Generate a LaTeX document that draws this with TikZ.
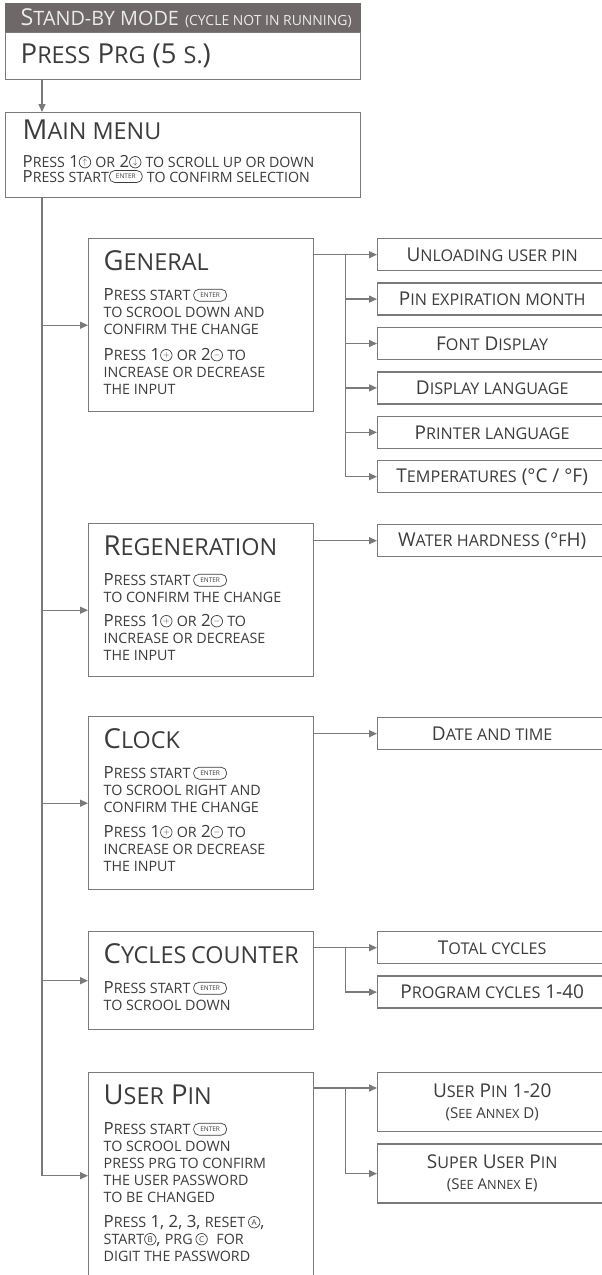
\documentclass[tikz,border=0pt]{standalone}
\usepackage{fontspec}
\setmainfont{Open Sans}
\usetikzlibrary{arrows.meta, positioning, calc}
\definecolor{linegray}{RGB}{122,122,122}
\definecolor{headgray}{RGB}{110,104,104}
\definecolor{txtgray}{RGB}{60,60,60}

\newcommand{\titlesize}{\fontsize{27.5}{30}\selectfont}
\newcommand{\bodysize}{\fontsize{16.8}{17}\selectfont}
\newcommand{\itemsize}{\fontsize{19}{20}\selectfont}
% small capitals drawn from scaled capitals
\makeatletter
\newcommand{\smc}[1]{{\fontsize{\fpeval{0.85*\f@size}}{\f@baselineskip}\selectfont\MakeUppercase{#1}}}
\makeatother
\newcommand{\boxtitle}[1]{\rule{0pt}{32pt}{\titlesize #1}\par\vspace{13pt}\bodysize}

% key symbols
\tikzset{
    keyround/.style={circle, anchor=center, draw=txtgray, fill=white, line width=0.7pt, minimum size=11.5pt, inner sep=0pt, text=txtgray, font=\fontsize{8}{8}\selectfont},
    keyoval/.style={rectangle, anchor=center, draw=txtgray, fill=white, line width=0.7pt, rounded corners=5.5pt, minimum height=12pt, minimum width=33pt, inner xsep=1pt, inner ysep=0pt, text=txtgray, font=\fontsize{6.5}{6.5}\selectfont}
}
\newcommand{\kenter}{\tikz[baseline=-5.5pt]\node[keyoval] (k) {ENTER};}
\newcommand{\kround}[1]{\tikz[baseline=-5.5pt]\node[keyround] (k) {#1};}

\begin{document}
\begin{tikzpicture}[
    x=1pt, y=-1pt,
    frame/.style={draw=linegray, line width=1.4pt, fill=white, anchor=north west, inner ysep=0pt, text=txtgray},
    menubox/.style={frame, inner xsep=15pt},
    itembox/.style={frame, inner sep=0pt, minimum width=229pt, minimum height=32pt, align=center, font=\itemsize},
    arrow/.style={-{Triangle[length=8pt, width=7pt]}, draw=linegray, line width=1.4pt}
]
\useasboundingbox (0,0) rectangle (602,1275);
\clip (0,0) rectangle (602,1275);

% Stand-by and main menu
\node[frame, fill=headgray, draw=headgray, text=white!92!black, inner xsep=15pt, minimum height=29pt] (standby) at (5,3)
    {\makebox[325pt][l]{\fontsize{23.3}{25}\selectfont S\smc{tand-by mode} {\fontsize{16.4}{16}\selectfont\smc{(cycle not in running)}}}};
\node[frame, inner xsep=15pt, minimum height=47pt] (press) at (5,32)
    {\makebox[325pt][l]{\fontsize{27.5}{33}\selectfont P\smc{ress} P\smc{rg} (5 \smc{s.})}};
\node[frame, inner xsep=17pt] (menu) at (5,112)
    {\parbox[t][85pt][t]{321pt}{\rule{0pt}{27pt}{\fontsize{27.5}{28}\selectfont M\smc{ain menu}}\par
    \vspace{13.7pt}\fontsize{16.7}{14.3}\selectfont
    P\smc{ress} 1\kround{$\uparrow$}\ \smc{or} 2\kround{$\downarrow$}\ \smc{to scroll up or down}\\
    P\smc{ress start}\kenter\ \smc{to confirm selection}\par}};

% Menu entries
\node[menubox] (general) at (88,238)
    {\parbox[t][173pt][t]{195pt}{\boxtitle{G\smc{eneral}}
    P\smc{ress start}\,\kenter\\ \smc{to scrool down and}\\ \smc{confirm the change}\par
    \vspace{9pt}P\smc{ress} 1\kround{$+$}\ \smc{or} 2\kround{$-$}\ \smc{to}\\ \smc{increase or decrease}\\ \smc{the input}\par}};
\node[menubox] (regen) at (88,523)
    {\parbox[t][153pt][t]{195pt}{\boxtitle{R\smc{egeneration}}
    P\smc{ress start}\,\kenter\\ \smc{to confirm the change}\par
    \vspace{7pt}P\smc{ress} 1\kround{$+$}\ \smc{or} 2\kround{$-$}\ \smc{to}\\ \smc{increase or decrease}\\ \smc{the input}\par}};
\node[menubox] (clock) at (88,716)
    {\parbox[t][173pt][t]{195pt}{\boxtitle{C\smc{lock}}
    P\smc{ress start}\,\kenter\\ \smc{to scrool right and}\\ \smc{confirm the change}\par
    \vspace{8pt}P\smc{ress} 1\kround{$+$}\ \smc{or} 2\kround{$-$}\ \smc{to}\\ \smc{increase or decrease}\\ \smc{the input}\par}};
\node[menubox] (cycles) at (88,931)
    {\parbox[t][98pt][t]{195pt}{\boxtitle{C\smc{ycles counter}}
    P\smc{ress start}\,\kenter\\ \smc{to scrool down}\par}};
\node[menubox] (userpin) at (88,1072)
    {\parbox[t][206pt][t]{195pt}{\boxtitle{U\smc{ser} P\smc{in}}
    P\smc{ress start}\,\kenter\\ \smc{to scrool down}\\ \smc{press prg to confirm}\\ \smc{the user password}\\ \smc{to be changed}\par
    \vspace{8pt}P\smc{ress} 1, 2, 3, \smc{reset}\,\kround{A},\\ \smc{start}\kround{B}, \smc{prg}\,\kround{C}\ \ \smc{for}\\ \smc{digit the password}\par}};

% Settings on the right
\node[itembox] (unload) at (377,238) {U\smc{nloading user pin}};
\node[itembox, below=11pt of unload] (pinexp) {P\smc{in expiration month}};
\node[itembox, below=11pt of pinexp] (fontdisp) {F\smc{ont} D\smc{isplay}};
\node[itembox, below=11pt of fontdisp] (displang) {D\smc{isplay language}};
\node[itembox, below=11pt of displang] (printlang) {P\smc{rinter language}};
\node[itembox, below=11pt of printlang] (temps) {T\smc{emperatures} (°C / °F)};
\node[itembox] (water) at (377,524) {W\smc{ater hardness} (°\smc{f}H)};
\node[itembox] (datetime) at (377,717) {D\smc{ate and time}};
\node[itembox] (total) at (377,931) {T\smc{otal cycles}};
\node[itembox, below=11pt of total] (progcyc) {P\smc{rogram cycles} 1-40};
\node[itembox, minimum height=59pt] (pinusers) at (377,1072)
    {U\smc{ser} P\smc{in} 1-20\\[1pt]{\fontsize{15}{15}\selectfont (S\smc{ee} A\smc{nnex} D)}};
\node[itembox, minimum height=59pt, below=11pt of pinusers] (superpin)
    {S\smc{uper} U\smc{ser} P\smc{in}\\[1pt]{\fontsize{15}{15}\selectfont (S\smc{ee} A\smc{nnex} E)}};

% Arrows
\coordinate (spine) at ([xshift=37pt]menu.south west);
\coordinate (regenin) at ([yshift=-10pt]regen.west);
\draw[arrow] ([xshift=37pt]press.south west) -- ([xshift=37pt]menu.north west);
\draw[arrow] (spine) |- (userpin.west);
\draw[arrow] (spine |- general.west) -- (general.west);
\draw[arrow] (spine |- regenin) -- (regenin);
\draw[arrow] (spine |- clock.west) -- (clock.west);
\draw[arrow] (spine |- cycles.west) -- (cycles.west);

\coordinate (genfork) at ($(general.east |- unload.west)!0.5!(unload.west)$);
\draw[arrow] (general.east |- unload.west) -- (unload.west);
\draw[arrow] (genfork) |- (pinexp.west);
\draw[arrow] (genfork) |- (fontdisp.west);
\draw[arrow] (genfork) |- (displang.west);
\draw[arrow] (genfork) |- (printlang.west);
\draw[arrow] (genfork) |- (temps.west);

\draw[arrow] (regen.east |- water.west) -- (water.west);
\draw[arrow] (clock.east |- datetime.west) -- (datetime.west);

\coordinate (cycfork) at ($(cycles.east |- total.west)!0.5!(total.west)$);
\draw[arrow] (cycles.east |- total.west) -- (total.west);
\draw[arrow] (cycfork) |- (progcyc.west);

\coordinate (pinfork) at ($([yshift=-16pt]userpin.north east)!0.5!([yshift=-16pt]pinusers.north west)$);
\draw[arrow] ([yshift=-16pt]userpin.north east) -- ([yshift=-16pt]pinusers.north west);
\draw[arrow] (pinfork) |- (superpin.west);

\end{tikzpicture}
\end{document}
